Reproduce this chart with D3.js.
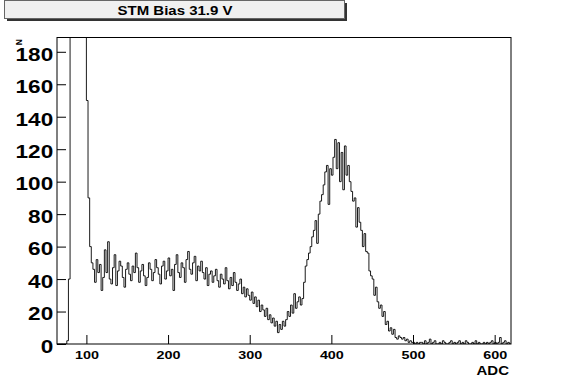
<!DOCTYPE html>
<html>
<head>
<meta charset="utf-8">
<script src="https://cdn.jsdelivr.net/npm/d3@7"></script>
<style>
  html, body { margin: 0; padding: 0; background: #fff; }
  svg { display: block; }
  text { font-family: "Liberation Sans", Arial, Helvetica, sans-serif; font-weight: bold; fill: #000; }
</style>
</head>
<body>
<script>
// ---- data ----
const title = "STM Bias 31.9 V";
const xTitle = "ADC";
const yTitle = "N";
const adcStart = 64;      // low edge of first bin
const binWidth = 2;       // ADC units per bin
const counts = [
  /* 64 */ 0, 0, 0, 0, 0, 0, 2, 40, 900, 1600,
  /* 84 */ 2000, 1800, 1500, 1200, 900, 700, 500, 300, 150, 90,
  /*104 */ 60, 50, 46, 38, 52, 44, 49, 33, 41, 58,
  /*124 */ 44, 63, 40, 37, 47, 55, 36, 45, 51, 48,
  /*144 */ 41, 35, 46, 50, 43, 39, 48, 44, 56, 47,
  /*164 */ 38, 45, 49, 42, 36, 41, 50, 46, 39, 44,
  /*184 */ 52, 47, 43, 37, 48, 51, 40, 45, 53, 42,
  /*204 */ 46, 33, 49, 55, 44, 41, 50, 47, 38, 52,
  /*224 */ 57, 46, 43, 50, 54, 39, 48, 45, 51, 44,
  /*244 */ 40, 47, 36, 43, 45, 38, 42, 46, 39, 35,
  /*264 */ 43, 40, 37, 47, 39, 34, 41, 36, 44, 38,
  /*284 */ 33, 37, 40, 31, 35, 29, 34, 30, 27, 32,
  /*304 */ 25, 29, 23, 27, 20, 24, 21, 17, 22, 15,
  /*324 */ 18, 13, 16, 11, 14, 7, 12, 9, 14, 11,
  /*344 */ 15, 20, 17, 24, 19, 31, 22, 26, 29, 24,
  /*364 */ 28, 38, 48, 52, 56, 60, 66, 70, 76, 62,
  /*384 */ 80, 88, 92, 98, 106, 110, 86, 108, 104, 115,
  /*404 */ 126, 108, 124, 100, 118, 95, 122, 104, 110, 100,
  /*424 */ 94, 88, 90, 72, 84, 75, 70, 60, 68, 57,
  /*444 */ 56, 45, 42, 40, 30, 35, 26, 22, 24, 17,
  /*464 */ 20, 12, 14, 8, 10, 6, 9, 4, 3, 5,
  /*484 */ 4, 3, 4, 2, 3, 1, 2, 1, 1, 0,
  /*504 */ 1, 0, 1, 1, 0, 2, 0, 1, 3, 0,
  /*524 */ 1, 2, 0, 0, 1, 0, 2, 1, 0, 0,
  /*544 */ 1, 2, 0, 1, 0, 1, 2, 0, 1, 0,
  /*564 */ 2, 1, 0, 0, 1, 0, 2, 0, 1, 0,
  /*584 */ 0, 1, 0, 1, 0, 1, 2, 0, 1, 0,
  /*604 */ 1, 4, 0, 1, 2, 0, 1, 0
];
const xDomain = [64, 620];
const yDomain = [0, 188.8];
const xMajorTicks = [100, 200, 300, 400, 500, 600];
const xMinorTicks = [80, 120, 140, 160, 180, 220, 240, 260, 280, 320, 340, 360, 380, 420, 440, 460, 480, 520, 540, 560, 580, 620];
const yMajorTicks = [0, 20, 40, 60, 80, 100, 120, 140, 160, 180];
const yMinorTicks = [5, 10, 15, 25, 30, 35, 45, 50, 55, 65, 70, 75, 85, 90, 95, 105, 110, 115, 125, 130, 135, 145, 150, 155, 165, 170, 175, 185];

// ---- layout ----
const W = 567, H = 384;
const frame = { left: 57, right: 511, top: 37.5, bottom: 344 };

const svg = d3.select("body").append("svg").attr("width", W).attr("height", H);

const x = d3.scaleLinear().domain(xDomain).range([frame.left, frame.right]);
const y = d3.scaleLinear().domain(yDomain).range([frame.bottom, frame.top]);

// title pave with shadow
svg.append("rect").attr("x", 7).attr("y", 3).attr("width", 340).attr("height", 18).attr("fill", "#333");
svg.append("rect").attr("x", 4.5).attr("y", 0.5).attr("width", 340).attr("height", 18)
  .attr("fill", "#f0f0f0").attr("stroke", "#666").attr("stroke-width", 1);
svg.append("text").attr("x", 0).attr("y", 0)
  .attr("transform", "translate(175,14.8) scale(1.2,1)")
  .attr("text-anchor", "middle").attr("font-size", 12.5).text(title);

// clip
svg.append("clipPath").attr("id", "fr").append("rect")
  .attr("x", frame.left).attr("y", frame.top)
  .attr("width", frame.right - frame.left).attr("height", frame.bottom - frame.top);

// histogram step line
const pts = counts.map((c, i) => ({ e: adcStart + i * binWidth, c }));
pts.push({ e: adcStart + counts.length * binWidth, c: counts[counts.length - 1] });
const line = d3.line().x(d => x(d.e)).y(d => y(Math.min(d.c, 400))).curve(d3.curveStepAfter);
svg.append("path").attr("clip-path", "url(#fr)")
  .attr("d", line(pts)).attr("fill", "none").attr("stroke", "#000").attr("stroke-width", 0.9);

// axes
const gx = svg.append("g").attr("transform", `translate(0,${frame.bottom})`);
gx.call(d3.axisBottom(x).tickValues(xMinorTicks).tickSize(-4.5).tickFormat(""));
gx.call(d3.axisBottom(x).tickValues(xMajorTicks).tickSize(-9).tickFormat(d3.format("d")));
gx.selectAll(".domain").remove();
gx.selectAll("line").attr("stroke", "#000");
gx.selectAll("text").attr("font-size", 11.5).attr("y", 0).attr("dy", 0)
  .attr("transform", "translate(0,14.5) scale(1.25,1)")
  .style("font-family", "'Liberation Sans', Arial, sans-serif").style("font-weight", "bold");

const gy = svg.append("g").attr("transform", `translate(${frame.left},0)`);
gy.call(d3.axisLeft(y).tickValues(yMinorTicks).tickSize(-4.5).tickFormat(""));
gy.call(d3.axisLeft(y).tickValues(yMajorTicks).tickSize(-9).tickFormat(d3.format("d")));
gy.selectAll(".domain").remove();
gy.selectAll("line").attr("stroke", "#000");
gy.selectAll("text").attr("font-size", 18.5).attr("x", 0).attr("dy", "0.45em")
  .attr("transform", "translate(-3.8,0) scale(1.22,1)")
  .style("font-family", "'Liberation Sans', Arial, sans-serif").style("font-weight", "bold");

// frame
svg.append("rect").attr("x", frame.left).attr("y", frame.top)
  .attr("width", frame.right - frame.left).attr("height", frame.bottom - frame.top)
  .attr("fill", "none").attr("stroke", "#000").attr("stroke-width", 1);

// axis titles
svg.append("text").attr("transform", `translate(509,375) scale(1.2,1)`)
  .attr("text-anchor", "end").attr("font-size", 12.5).text(xTitle);
svg.append("text").attr("transform", `translate(21.8,39) rotate(-90)`)
  .attr("text-anchor", "end").attr("font-size", 8.5).text(yTitle);
</script>
</body>
</html>
